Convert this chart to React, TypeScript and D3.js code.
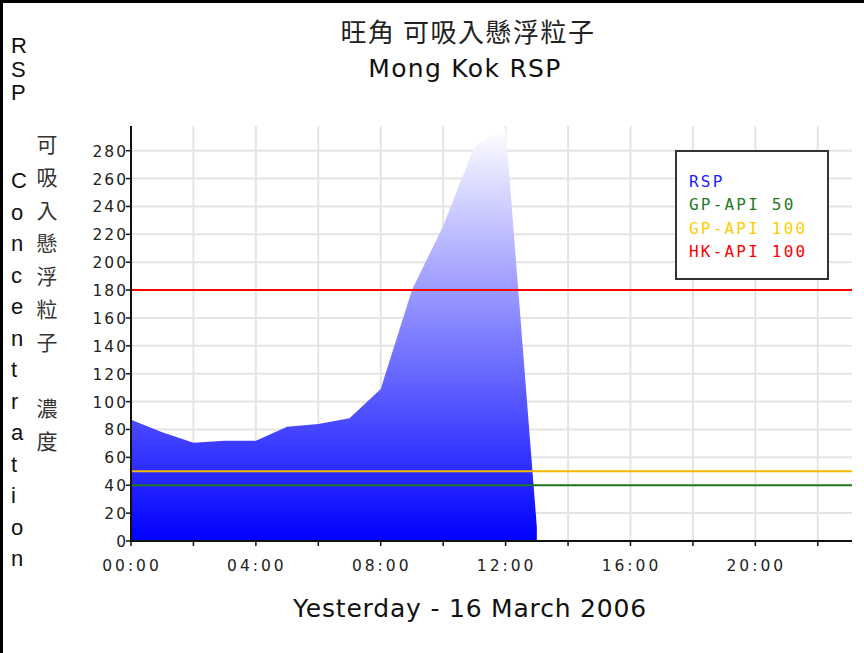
import * as d3 from "d3";

// hourly RSP readings, 16 March 2006 (µg/m³)
const hours = [0, 1, 2, 3, 4, 5, 6, 7, 8, 9, 10, 11, 12, 13];
const rsp = [87, 78, 70.5, 72, 72, 82, 84, 88, 109, 180, 226, 283, 296, 10];

const yTicks = [0, 20, 40, 60, 80, 100, 120, 140, 160, 180, 200, 220, 240, 260, 280];
const xGridHours = [2, 4, 6, 8, 10, 12, 14, 16, 18, 20, 22];
const xLabelHours = [0, 4, 8, 12, 16, 20];
const xLabels = ["00:00", "04:00", "08:00", "12:00", "16:00", "20:00"];

const refLines = [
  { name: "GP-API 50", value: 40, color: "#1f7a1f" },
  { name: "GP-API 100", value: 50, color: "#f5b800" },
  { name: "HK-API 100", value: 180, color: "#ff0000" },
];
const legendItems = [
  { name: "RSP", color: "#2020ff" },
  { name: "GP-API 50", color: "#1f7a1f" },
  { name: "GP-API 100", color: "#ffcc00" },
  { name: "HK-API 100", color: "#ff0000" },
];

const titleZh = "旺角 可吸入懸浮粒子";
const titleEn = "Mong Kok RSP";
const footer = "Yesterday - 16 March 2006";
const sideEnTop = ["R", "S", "P"];
const sideEn = "Concentration".split("");
const sideZh = ["可", "吸", "入", "懸", "浮", "粒", "子", "", "濃", "度"];

const W = 864;
const H = 653;
const left = 131;
const right = 849;
const bottom = 541;
const top = 127;

const mono = "'DejaVu Sans Mono', monospace";
const sans = "'DejaVu Sans', Verdana, sans-serif";
const arial = "'Liberation Sans', Arial, sans-serif";
const cjk = "'Noto Sans CJK TC', sans-serif";

export default function App() {
  const x = d3.scaleLinear().domain([0, 23]).range([left, right]);
  const y = d3.scaleLinear().domain([0, 297]).range([bottom, top]);

  const pts = hours.map((h, i) => ({ h, v: rsp[i] }));
  const area = d3
    .area<{ h: number; v: number }>()
    .x((d) => x(d.h))
    .y0(y(0))
    .y1((d) => y(d.v))
    .curve(d3.curveLinear);

  const xEnd = right + 3;

  return (
    <svg
      width={W}
      height={H}
      style={{ position: "absolute", left: 0, top: 0, background: "#fff" }}
    >
      <defs>
        <linearGradient id="rspFill" gradientUnits="userSpaceOnUse" x1={0} x2={0} y1={y(297)} y2={y(0)}>
          <stop offset="0" stopColor="#ffffff" />
          <stop offset="1" stopColor="#0000ff" />
        </linearGradient>
      </defs>

      {/* frame */}
      <rect x={0} y={0} width={W} height={3} fill="#000" />
      <rect x={0} y={0} width={3} height={H} fill="#000" />

      {/* titles */}
      <text x={468} y={42} textAnchor="middle" fontFamily={cjk} fontSize={26} letterSpacing={1.5} fill="#222">
        {titleZh}
      </text>
      <text x={465} y={77} textAnchor="middle" fontFamily={sans} fontSize={25} letterSpacing={1.3} fill="#111">
        {titleEn}
      </text>
      <text x={470} y={617} textAnchor="middle" fontFamily={sans} fontSize={25} letterSpacing={0.8} fill="#111">
        {footer}
      </text>

      {/* side labels */}
      {sideEnTop.map((c, i) => (
        <text key={"t" + i} x={11} y={53 + i * 23.5} fontFamily={arial} fontSize={22} fill="#111">
          {c}
        </text>
      ))}
      {sideEn.map((c, i) => (
        <text key={"e" + i} x={11} y={188 + i * 31.5} fontFamily={arial} fontSize={22} fill="#111">
          {c}
        </text>
      ))}
      {sideZh.map((c, i) => (
        <text key={"z" + i} x={47} y={152 + i * 33} textAnchor="middle" fontFamily={cjk} fontSize={21} fill="#333">
          {c}
        </text>
      ))}

      {/* grid */}
      {yTicks.slice(1).map((t) => (
        <line key={"gy" + t} x1={left} x2={xEnd} y1={y(t)} y2={y(t)} stroke="#e4e4e4" strokeWidth={2} />
      ))}
      {xGridHours.map((h) => (
        <line key={"gx" + h} x1={x(h)} x2={x(h)} y1={top - 1} y2={bottom} stroke="#e4e4e4" strokeWidth={2} />
      ))}

      {/* RSP area */}
      <path d={area(pts) ?? ""} fill="url(#rspFill)" />

      {/* reference lines */}
      {refLines.map((r) => (
        <line key={r.name} x1={left} x2={xEnd} y1={y(r.value)} y2={y(r.value)} stroke={r.color} strokeWidth={2} />
      ))}

      {/* axes */}
      <line x1={left} x2={left} y1={top - 1} y2={bottom + 1} stroke="#111" strokeWidth={2} />
      <line x1={left - 1} x2={xEnd} y1={bottom} y2={bottom} stroke="#111" strokeWidth={2} />
      {yTicks.map((t) => (
        <g key={"ty" + t}>
          <line x1={left - 5} x2={left} y1={y(t)} y2={y(t)} stroke="#111" strokeWidth={1.5} />
          <text x={left - 5 + 2} y={y(t) + 6} textAnchor="end" fontFamily={sans} fontSize={15.5} letterSpacing={2} fill="#222">
            {t}
          </text>
        </g>
      ))}
      {[0, ...xGridHours].map((h) => (
        <line key={"tx" + h} x1={x(h)} x2={x(h)} y1={bottom} y2={bottom + 5} stroke="#111" strokeWidth={1.5} />
      ))}
      {xLabelHours.map((h, i) => (
        <text key={"lx" + h} x={x(h) + 1} y={571} textAnchor="middle" fontFamily={sans} fontSize={15.5} letterSpacing={3} fill="#222">
          {xLabels[i]}
        </text>
      ))}

      {/* legend */}
      <rect x={676} y={151} width={152} height={128} fill="#fff" stroke="#333" strokeWidth={2} />
      {legendItems.map((l, i) => (
        <text key={l.name} x={689} y={187 + i * 23.3} fontFamily={mono} fontSize={16} letterSpacing={2.2} fill={l.color}>
          {l.name}
        </text>
      ))}
    </svg>
  );
}
